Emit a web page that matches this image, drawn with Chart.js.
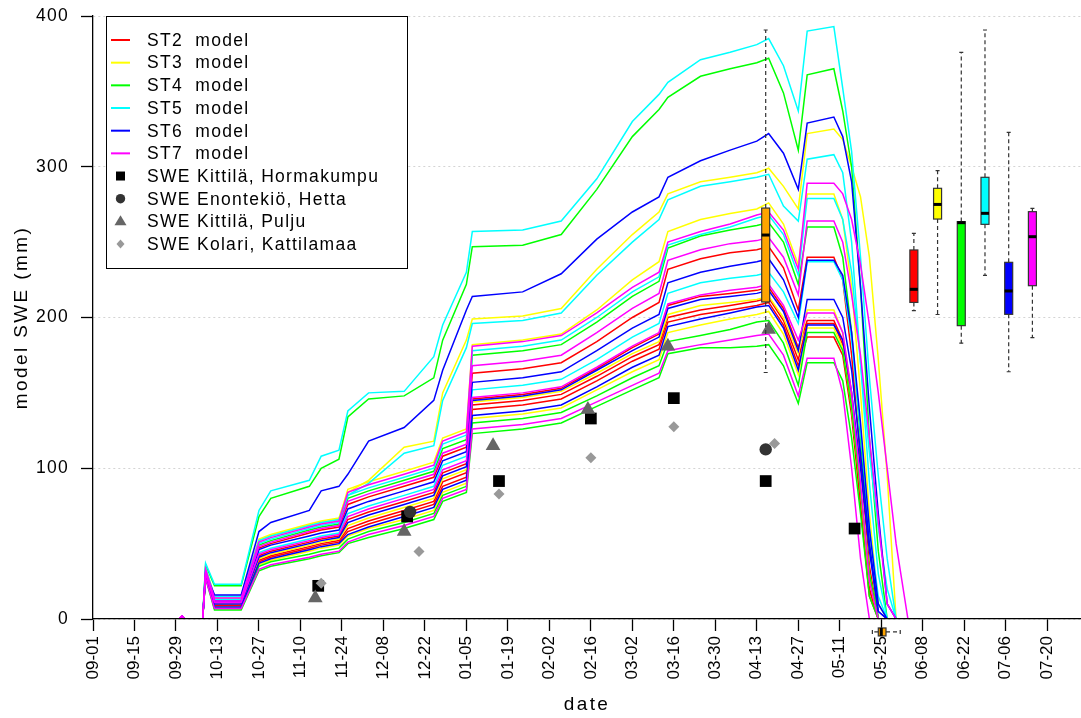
<!DOCTYPE html>
<html>
<head>
<meta charset="utf-8">
<script src="https://cdn.jsdelivr.net/npm/chart.js@4.4.0/dist/chart.umd.min.js"></script>
<style>
  html, body { margin: 0; padding: 0; background: #fff; }
  #wrap { width: 1081px; height: 718px; }
</style>
</head>
<body>
<div id="wrap"><canvas id="sweChart" width="1081" height="718"></canvas></div>
<script>
// x axis is counted in days from 09-01
const dateLabels = ['09-01', '09-15', '09-29', '10-13', '10-27', '11-10', '11-24', '12-08', '12-22', '01-05', '01-19', '02-02',
                    '02-16', '03-02', '03-16', '03-30', '04-13', '04-27', '05-11', '05-25', '06-08', '06-22', '07-06', '07-20'];
const tickDays = [0, 14, 28, 42, 56, 70, 84, 98, 112, 126, 140, 154, 168, 182, 196, 210, 224, 238, 252, 266, 280, 294, 308, 322];

const stationNames = ['ST2', 'ST3', 'ST4', 'ST5', 'ST6', 'ST7'];

const modelDays = [29, 30, 31, 37, 38, 41, 50, 56, 60, 73, 77, 83, 86, 93, 105, 115, 118, 126, 128, 145, 158, 170, 182, 191, 194,
                   205, 215, 224, 228, 233, 238, 241, 250, 253, 256, 259, 262, 265, 268, 271, 275];

// model SWE (mm), four runs per station
const st2Runs = [
  [0,2,0,0,31,12,12,47,50,57,59,61,76,81,88,94,108,114,163,166,170,184,200,210,232,239,243,245,247,233,205,240,240,225,175,105,35,0,0,0,0],
  [0,2,0,0,30,10,10,42,45,51,53,55,66,71,78,84,97,103,146,149,153,166,180,189,208,214,216,218,220,206,180,198,198,185,140,80,20,0,0,0,0],
  [0,2,0,0,29,9,9,39,42,48,50,52,60,65,72,78,91,97,142,145,149,161,174,182,200,205,208,211,213,198,172,196,196,182,140,80,20,0,0,0,0],
  [0,2,0,0,29,9,9,38,41,47,49,51,58,63,70,76,88,94,139,142,146,158,171,179,197,202,205,208,210,195,168,187,187,175,135,75,15,0,0,0,0]
];
const st3Runs = [
  [0,2,0,0,34,15,15,53,56,63,65,67,84,92,114,118,150,185,199,201,206,232,255,270,282,290,293,296,299,287,272,322,325,318,300,280,240,172,95,0,0],
  [0,2,0,0,33,14,14,52,55,62,64,66,86,91,98,104,120,126,182,185,189,205,225,237,257,265,269,272,276,262,235,282,282,265,220,150,70,10,0,0,0],
  [0,2,0,0,29,10,10,40,43,49,51,53,62,67,74,80,93,99,144,147,151,163,176,184,202,208,210,212,214,200,176,205,205,190,150,90,30,0,0,0,0],
  [0,2,0,0,28,8,8,36,39,45,47,49,55,60,66,72,84,90,133,136,140,152,164,172,190,195,199,202,204,189,162,193,193,180,140,85,25,0,0,0,0]
];
const st4Runs = [
  [0,2,0,0,36,22,22,68,80,88,100,106,134,146,148,160,185,222,247,248,255,285,320,338,346,360,365,369,372,349,311,361,365,337,300,220,120,45,0,0,0],
  [0,2,0,0,32,13,13,49,52,59,61,63,80,85,92,98,113,119,175,178,182,197,214,224,246,254,258,261,263,250,222,260,260,240,190,120,50,0,0,0,0],
  [0,2,0,0,28,7,7,35,38,43,45,47,53,58,64,70,82,88,130,133,137,148,160,168,184,188,192,197,198,183,155,190,190,178,140,85,30,0,0,0,0],
  [0,2,0,0,27,6,6,32,35,40,42,44,50,54,60,66,78,84,123,126,130,141,152,160,176,180,180,181,182,168,143,170,170,158,120,70,15,0,0,0,0]
];
const st5Runs = [
  [0,2,0,0,37,23,23,72,85,92,108,112,138,150,151,174,195,230,257,258,264,292,330,348,356,371,376,381,385,367,337,390,393,352,310,240,160,95,40,0,0],
  [0,2,0,0,34,15,15,52,55,62,64,66,82,90,110,115,145,180,196,198,203,228,250,265,278,287,290,293,295,274,264,305,308,296,250,170,90,30,0,0,0],
  [0,2,0,0,32,13,13,50,53,60,62,64,82,87,94,100,116,122,178,181,185,200,217,227,248,255,260,266,268,255,228,279,279,265,230,170,110,60,20,0,0],
  [0,2,0,0,31,11,11,44,47,53,55,57,70,75,82,88,102,108,152,155,159,172,187,196,216,223,226,228,230,217,196,237,237,225,185,125,60,15,0,0,0]
];
const st6Runs = [
  [0,2,0,0,30,16,16,58,64,72,85,88,96,118,127,145,165,205,214,217,229,252,270,280,293,304,311,317,322,309,285,329,333,320,290,220,140,70,10,0,0],
  [0,2,0,0,31,12,12,46,49,55,57,59,73,78,85,91,105,111,157,160,164,178,193,202,223,230,234,237,239,225,200,238,238,228,190,130,60,10,0,0,0],
  [0,2,0,0,30,10,10,41,44,50,52,54,64,69,76,82,95,101,145,148,152,165,178,187,206,212,214,216,218,204,178,212,212,200,165,110,50,5,0,0,0],
  [0,2,0,0,28,8,8,37,40,46,48,50,56,61,68,74,86,92,135,138,142,154,167,175,194,199,203,207,208,193,165,195,195,185,150,100,45,5,0,0,0]
];
const st7Runs = [
  [0,2,0,0,33,14,14,51,54,61,63,65,84,89,96,102,118,124,181,184,188,203,220,230,250,257,262,268,270,258,232,289,289,282,265,235,195,150,100,50,0],
  [0,2,0,0,32,12,12,48,51,58,60,62,78,83,90,96,110,116,168,171,175,190,206,216,238,245,249,251,253,240,215,264,264,250,215,175,120,65,10,0,0],
  [0,2,0,0,30,11,11,43,46,52,54,56,68,73,80,86,99,105,147,150,154,167,181,190,209,215,218,220,222,208,185,203,203,190,150,90,25,0,0,0,0],
  [0,2,0,0,27,7,7,33,36,41,43,45,51,56,62,68,80,86,126,129,133,144,155,163,178,182,185,188,189,175,148,173,173,150,100,40,0,0,0,0,0]
];

// snow course observations (day, SWE mm)
const obsNames = ['SWE Kittilä, Hormakumpu', 'SWE Enontekiö, Hetta', 'SWE Kittilä, Pulju', 'SWE Kolari, Kattilamaa'];
const hormakumpuDays = [76, 106, 137, 168, 196, 227, 257];
const hormakumpuSWE = [22, 68, 91.5, 133, 146.5, 91.5, 60];
const hettaDays = [107, 227];
const hettaSWE = [71, 112.5];
const puljuDays = [75, 105, 135, 167, 194, 228];
const puljuSWE = [14, 58, 115, 139, 181, 192];
const kattilamaaDays = [77, 110, 137, 168, 196, 230];
const kattilamaaSWE = [23.7, 44.7, 83, 107, 127.6, 116.5];

// boxplots of peak SWE per station: min, q1, median, q3, max
const boxDays = [277, 285, 293, 301, 309, 317];
const boxMin = [204.5, 202, 183, 228, 164, 186.6];
const boxQ1 = [210, 265.3, 194.6, 261.8, 202.1, 221.1];
const boxMedian = [218.7, 275, 262.9, 269.1, 217.6, 253.6];
const boxQ3 = [244.8, 285.7, 263.6, 293, 236.6, 270.2];
const boxMax = [255.8, 297.4, 375.9, 390.7, 322.8, 272.4];
// all-station peak SWE box and melt-out date box
const peakBoxDay = 227;
const peakBoxStats = [163.5, 210.3, 254.7, 272.6, 390.7];
const meltBoxLevel = -8.6;
const meltBoxDays = [263, 265, 266, 267.6, 272.4];

const stationColors = ['#ff0000', '#ffff00', '#00ff00', '#00ffff', '#0000ff', '#ff00ff'];
const FONT = '"Liberation Sans", Arial, Helvetica, sans-serif';

const datasets = [];
[st2Runs, st3Runs, st4Runs, st5Runs, st6Runs, st7Runs].forEach((runs, s) => {
  runs.forEach(run => {
    datasets.push({
      label: stationNames[s] + '  model',
      data: modelDays.map((d, i) => ({ x: d, y: run[i] })),
      borderColor: stationColors[s],
      borderWidth: 1.5,
      pointRadius: 0,
      fill: false,
      tension: 0,
      order: 60 - s * 10
    });
  });
});

const obsSeries = [
  { days: hormakumpuDays, swe: hormakumpuSWE, style: 'rect', color: '#000000', radius: 8.3 },
  { days: hettaDays, swe: hettaSWE, style: 'circle', color: '#333333', radius: 6.2 },
  { days: puljuDays, swe: puljuSWE, style: 'triangle', color: '#666666', radius: 8.5 },
  { days: kattilamaaDays, swe: kattilamaaSWE, style: 'rectRot', color: '#999999', radius: 5.5 }
];
obsSeries.forEach((o, k) => {
  datasets.push({
    label: obsNames[k],
    data: o.days.map((d, i) => ({ x: d, y: o.swe[i] })),
    showLine: false,
    pointStyle: o.style,
    pointRadius: o.radius,
    pointBackgroundColor: o.color,
    pointBorderColor: o.color,
    pointBorderWidth: 0,
    order: 4 - k
  });
});

function drawVBox(ctx, xs, ys, day, stats, fill) {
  const x = xs.getPixelForValue(day);
  const [lo, q1, med, q3, hi] = stats.map(v => ys.getPixelForValue(v));
  const hw = 4;
  ctx.save();
  ctx.strokeStyle = '#333';
  ctx.lineWidth = 1.2;
  ctx.setLineDash([4, 3]);
  ctx.beginPath();
  ctx.moveTo(x, q3); ctx.lineTo(x, hi);
  ctx.moveTo(x, q1); ctx.lineTo(x, lo);
  ctx.stroke();
  ctx.setLineDash([]);
  ctx.beginPath();
  ctx.moveTo(x - 2, hi); ctx.lineTo(x + 2, hi);
  ctx.moveTo(x - 2, lo); ctx.lineTo(x + 2, lo);
  ctx.stroke();
  ctx.fillStyle = fill;
  ctx.fillRect(x - hw, q3, hw * 2, q1 - q3);
  ctx.strokeRect(x - hw, q3, hw * 2, q1 - q3);
  ctx.strokeStyle = '#000';
  ctx.lineWidth = 3;
  ctx.beginPath();
  ctx.moveTo(x - hw, med); ctx.lineTo(x + hw, med);
  ctx.stroke();
  ctx.restore();
}

function drawHBox(ctx, xs, ys, level, stats, fill) {
  const y = ys.getPixelForValue(level);
  const [lo, q1, med, q3, hi] = stats.map(v => xs.getPixelForValue(v));
  const hh = 4;
  ctx.save();
  ctx.strokeStyle = '#333';
  ctx.lineWidth = 1.2;
  ctx.setLineDash([4, 3]);
  ctx.beginPath();
  ctx.moveTo(q1, y); ctx.lineTo(lo, y);
  ctx.moveTo(q3, y); ctx.lineTo(hi, y);
  ctx.stroke();
  ctx.setLineDash([]);
  ctx.beginPath();
  ctx.moveTo(lo, y - 2); ctx.lineTo(lo, y + 2);
  ctx.moveTo(hi, y - 2); ctx.lineTo(hi, y + 2);
  ctx.stroke();
  ctx.fillStyle = fill;
  ctx.fillRect(q1, y - hh, q3 - q1, hh * 2);
  ctx.strokeRect(q1, y - hh, q3 - q1, hh * 2);
  ctx.strokeStyle = '#000';
  ctx.lineWidth = 3;
  ctx.beginPath();
  ctx.moveTo(med, y - hh); ctx.lineTo(med, y + hh);
  ctx.stroke();
  ctx.restore();
}

const boxPlugin = {
  id: 'boxes',
  afterDatasetsDraw(chart) {
    const ctx = chart.ctx, xs = chart.scales.x, ys = chart.scales.y;
    boxDays.forEach((d, i) => {
      drawVBox(ctx, xs, ys, d, [boxMin[i], boxQ1[i], boxMedian[i], boxQ3[i], boxMax[i]], stationColors[i]);
    });
    drawVBox(ctx, xs, ys, peakBoxDay, peakBoxStats, '#ffa500');
    drawHBox(ctx, xs, ys, meltBoxLevel, meltBoxDays, '#ffa500');
  }
};

function drawMarker(ctx, style, x, y, color) {
  ctx.fillStyle = color;
  ctx.beginPath();
  if (style === 'rect') {
    ctx.rect(x - 4.5, y - 4.5, 9, 9);
  } else if (style === 'circle') {
    ctx.arc(x, y, 4.7, 0, Math.PI * 2);
  } else if (style === 'triangle') {
    ctx.moveTo(x, y - 6); ctx.lineTo(x + 6, y + 4); ctx.lineTo(x - 6, y + 4); ctx.closePath();
  } else {
    ctx.moveTo(x, y - 4.5); ctx.lineTo(x + 4, y); ctx.lineTo(x, y + 4.5); ctx.lineTo(x - 4, y); ctx.closePath();
  }
  ctx.fill();
}

const legendPlugin = {
  id: 'boxLegend',
  afterDatasetsDraw(chart) {
    const ctx = chart.ctx, ca = chart.chartArea;
    const left = ca.left + 13, top = ca.top, w = 301, h = 252;
    ctx.save();
    ctx.fillStyle = '#fff';
    ctx.fillRect(left, top, w, h);
    ctx.strokeStyle = '#000';
    ctx.lineWidth = 1;
    ctx.strokeRect(left + 0.5, top + 0.5, w, h);
    ctx.font = '17.5px ' + FONT;
    ctx.letterSpacing = '1.3px';
    ctx.textBaseline = 'middle';
    const labels = stationNames.map(n => n + '  model').concat(obsNames);
    labels.forEach((text, i) => {
      const y = top + 24 + i * 22.67;
      if (i < 6) {
        ctx.strokeStyle = stationColors[i];
        ctx.lineWidth = 2;
        ctx.beginPath();
        ctx.moveTo(left + 5, y); ctx.lineTo(left + 24, y);
        ctx.stroke();
      } else {
        const o = obsSeries[i - 6];
        drawMarker(ctx, o.style, left + 14.5, y, o.color);
      }
      ctx.fillStyle = '#000';
      ctx.fillText(text, left + 41, y + 1);
    });
    ctx.restore();
  }
};

// R's text is wider than Arial: space the letters out per text kind
function withSpacing(scale, name, spacing) {
  const orig = scale[name].bind(scale);
  scale[name] = function (...args) {
    const ctx = scale.ctx;
    const prev = ctx.letterSpacing;
    ctx.letterSpacing = spacing;
    orig(...args);
    ctx.letterSpacing = prev;
  };
}
const spacingPlugin = {
  id: 'spacing',
  beforeDraw(chart) {
    const xs = chart.scales.x, ys = chart.scales.y;
    if (!xs._spaced) {
      withSpacing(xs, 'drawLabels', '0px');
      withSpacing(ys, 'drawLabels', '1.3px');
      withSpacing(xs, 'drawTitle', '2.4px');
      withSpacing(ys, 'drawTitle', '2.4px');
      xs._spaced = true;
    }
  }
};

new Chart(document.getElementById('sweChart'), {
  type: 'line',
  data: { datasets },
  options: {
    responsive: false,
    animation: false,
    devicePixelRatio: 1,
    layout: { autoPadding: false, padding: { top: 16, right: 0, bottom: 0, left: 0 } },
    plugins: { legend: { display: false }, tooltip: { enabled: false } },
    scales: {
      x: {
        type: 'linear',
        min: 0,
        max: 333.4,
        afterFit: (s) => { s.height = 99; s.paddingLeft = 0; s.paddingRight = 0; },
        afterBuildTicks: (s) => { s.ticks = tickDays.map(v => ({ value: v })); },
        ticks: {
          autoSkip: false,
          maxRotation: 90,
          minRotation: 90,
          padding: 5,
          color: '#000',
          font: { family: FONT, size: 17 },
          callback: (v) => dateLabels[tickDays.indexOf(v)]
        },
        grid: { drawOnChartArea: false, drawTicks: true, tickLength: 12, tickColor: '#000', tickWidth: 1.3 },
        border: { display: true, color: '#000', width: 1.3, z: 1 },
        title: { display: true, text: 'date', color: '#000', font: { family: FONT, size: 19 }, padding: { top: 0, bottom: 2 } }
      },
      y: {
        min: 0,
        max: 400,
        afterFit: (s) => { s.width = 93; s.paddingTop = 0; s.paddingBottom = 0; },
        ticks: {
          stepSize: 100,
          padding: 12,
          color: '#000',
          font: { family: FONT, size: 17.5 }
        },
        grid: { color: '#d4d4d4', lineWidth: 1, drawTicks: true, tickLength: 12, tickColor: '#000', tickWidth: 1.3 },
        border: { display: true, color: '#000', width: 1.3, dash: [2, 3], z: 1 },
        title: { display: true, text: 'model SWE (mm)', color: '#000', font: { family: FONT, size: 19 }, padding: { top: 10, bottom: 0 } }
      }
    }
  },
  plugins: [spacingPlugin, boxPlugin, legendPlugin]
});
</script>
</body>
</html>
